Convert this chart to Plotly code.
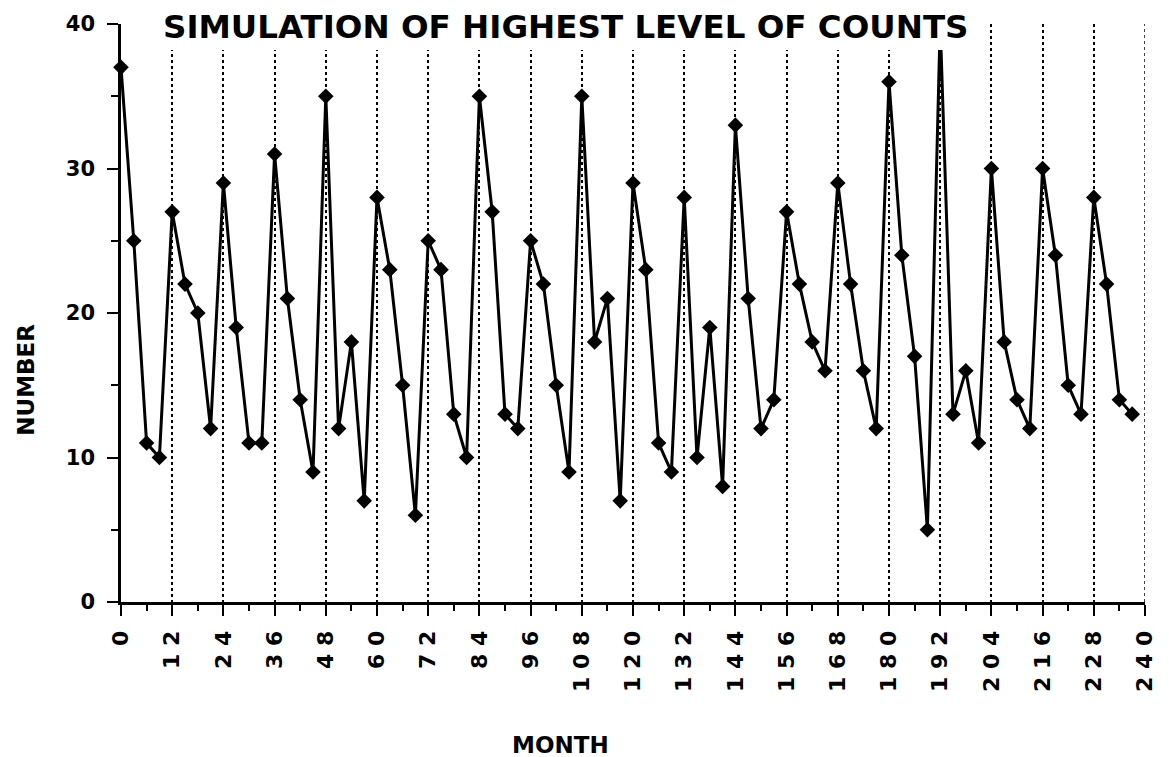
import plotly.graph_objects as go

# Data (quarterly points, months 0..237)
months = [0, 3, 6, 9, 12, 15, 18, 21, 24, 27, 30, 33, 36, 39, 42, 45,
          48, 51, 54, 57, 60, 63, 66, 69, 72, 75, 78, 81, 84, 87, 90, 93,
          96, 99, 102, 105, 108, 111, 114, 117, 120, 123, 126, 129, 132, 135, 138, 141,
          144, 147, 150, 153, 156, 159, 162, 165, 168, 171, 174, 177, 180, 183, 186, 189,
          192, 195, 198, 201, 204, 207, 210, 213, 216, 219, 222, 225, 228, 231, 234, 237]
counts = [37, 25, 11, 10, 27, 22, 20, 12, 29, 19, 11, 11, 31, 21, 14, 9,
          35, 12, 18, 7, 28, 23, 15, 6, 25, 23, 13, 10, 35, 27, 13, 12,
          25, 22, 15, 9, 35, 18, 21, 7, 29, 23, 11, 9, 28, 10, 19, 8,
          33, 21, 12, 14, 27, 22, 18, 16, 29, 22, 16, 12, 36, 24, 17, 5,
          40, 13, 16, 11, 30, 18, 14, 12, 30, 24, 15, 13, 28, 22, 14, 13]

x_tick_vals = [0, 12, 24, 36, 48, 60, 72, 84, 96, 108, 120, 132, 144, 156, 168, 180, 192, 204, 216, 228, 240]
x_tick_labels = ["0", "12", "24", "36", "48", "60", "72", "84", "96", "108", "120", "132", "144",
                 "156", "168", "180", "192", "204", "216", "228", "240"]
y_tick_vals = [0, 10, 20, 30, 40]
y_tick_labels = ["0", "10", "20", "30", "40"]

title_text = "SIMULATION OF HIGHEST LEVEL OF COUNTS"
x_title = "MONTH"
y_title = "NUMBER"

FONT = "DejaVu Sans"

fig = go.Figure()
fig.add_trace(go.Scatter(
    x=months, y=counts, mode="lines+markers",
    line=dict(color="black", width=3),
    marker=dict(symbol="diamond", size=12, color="black"),
    cliponaxis=False, showlegend=False,
))

spaced_x = [" ".join(list(t)) for t in x_tick_labels]

fig.update_layout(
    width=1169, height=757,
    margin=dict(l=121, r=14, t=22, b=155),
    paper_bgcolor="white", plot_bgcolor="white",
    xaxis=dict(
        range=[0, 240], tickmode="array", tickvals=x_tick_vals, ticktext=spaced_x,
        tickangle=-90, ticks="outside", ticklen=11, tickwidth=2, tickcolor="black",
        showline=True, linewidth=3, linecolor="black", zeroline=False,
        showgrid=True, gridcolor="black", griddash="dot", gridwidth=1.5,
        minor=dict(tickmode="linear", tick0=0, dtick=6, ticks="outside", ticklen=6,
                   tickwidth=2, tickcolor="black", showgrid=False),
        tickfont=dict(family=FONT, size=22, color="black", weight="bold"),
        ticklabelstandoff=6,
    ),
    yaxis=dict(
        range=[0, 40], tickmode="array", tickvals=y_tick_vals, ticktext=y_tick_labels,
        ticks="outside", ticklen=11, tickwidth=2, tickcolor="black",
        showline=True, linewidth=2.5, linecolor="black", zeroline=False, showgrid=False,
        minor=dict(tickmode="linear", tick0=0, dtick=5, ticks="outside", ticklen=7,
                   tickwidth=2, tickcolor="black", showgrid=False),
        tickfont=dict(family=FONT, size=21, color="black", weight="bold"),
        ticklabelstandoff=8,
    ),
    shapes=[
        dict(type="line", xref="x", yref="paper", x0=240, x1=240, y0=0, y1=1,
             line=dict(color="black", width=1.5, dash="dot"), layer="below"),
        dict(type="rect", xref="paper", yref="paper",
             x0=8 / 240, x1=198.5 / 240, y0=38.2 / 40, y1=1.06,
             fillcolor="white", line=dict(width=0), layer="above"),
    ],
    annotations=[
        dict(text=title_text, xref="paper", yref="paper", x=0.434, y=0.9948,
             xanchor="center", yanchor="middle", showarrow=False,
             font=dict(family=FONT, size=32.5, color="black", weight="bold")),
        dict(text=x_title, xref="paper", yref="paper", x=0.4289, y=-0.2466,
             xanchor="center", yanchor="middle", showarrow=False,
             font=dict(family=FONT, size=23, color="black", weight="bold")),
        dict(text=y_title, xref="paper", yref="paper", x=-0.0928, y=0.3845,
             xanchor="center", yanchor="middle", showarrow=False, textangle=-90,
             font=dict(family=FONT, size=23, color="black", weight="bold")),
    ],
)

fig.write_html("out.html")
